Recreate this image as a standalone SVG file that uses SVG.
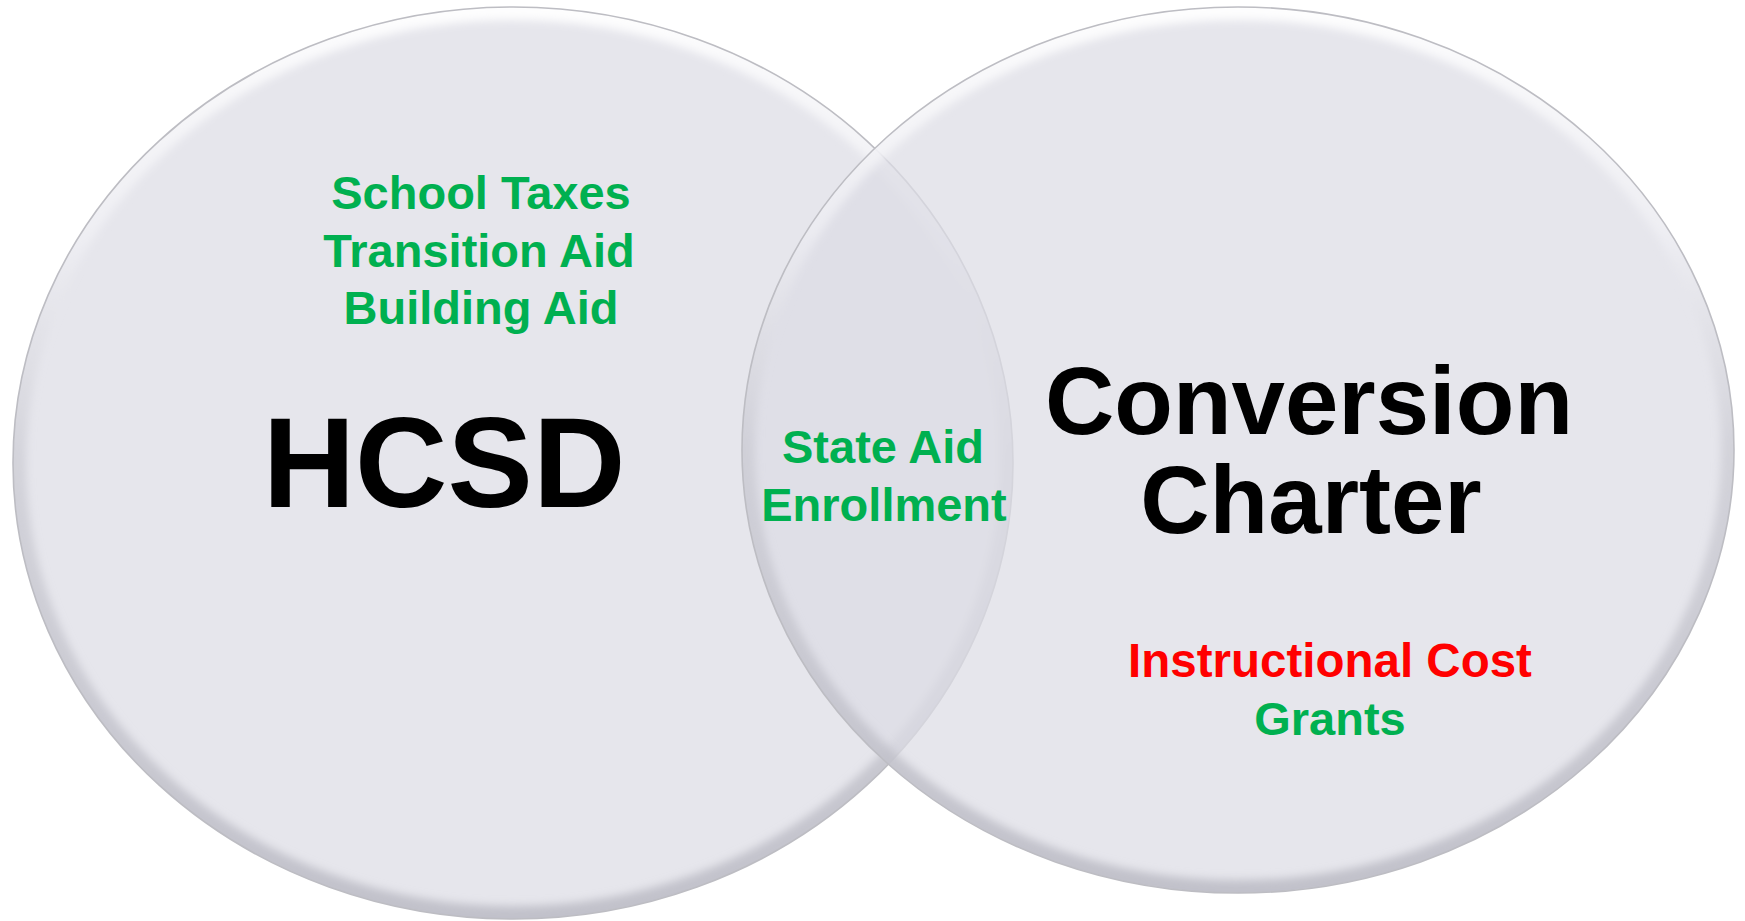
<svg xmlns="http://www.w3.org/2000/svg" width="1745" height="921" viewBox="0 0 1745 921">
  <style>
    .fill { fill: #DCDCE5; fill-opacity: 0.72; }
    .rim { fill: none; stroke: url(#rimGrad); stroke-width: 26; filter: url(#soft); }
    .edge { fill: none; stroke: #BDBDC3; stroke-width: 1.6; }
    .lbl { font-family: "Liberation Sans", Arial, sans-serif; font-weight: bold; text-anchor: middle; }
    .green { fill: #00B050; font-size: 47px; }
    .red { fill: #FF0000; font-size: 47.5px; }
    .big { fill: #000000; }
  </style>
  <defs>
    <linearGradient id="rimGrad" x1="0" y1="0" x2="0" y2="1">
      <stop offset="0" stop-color="#FFFFFF" stop-opacity="0.95"/>
      <stop offset="0.25" stop-color="#F4F4F8" stop-opacity="0.6"/>
      <stop offset="0.5" stop-color="#C6C6CE" stop-opacity="0.6"/>
      <stop offset="1" stop-color="#B8B8C2" stop-opacity="0.8"/>
    </linearGradient>
    <filter id="soft" x="-5%" y="-5%" width="110%" height="110%">
      <feGaussianBlur stdDeviation="4"/>
    </filter>
    <clipPath id="clipL"><ellipse cx="513" cy="463" rx="500" ry="456"/></clipPath>
    <clipPath id="clipR"><ellipse cx="1238" cy="450" rx="496" ry="443"/></clipPath>
  </defs>

  <rect width="1745" height="921" fill="#FFFFFF"/>

  <g id="node-hcsd">
    <ellipse class="fill" cx="513" cy="463" rx="500" ry="456"/>
    <g clip-path="url(#clipL)">
      <ellipse class="rim" cx="513" cy="463" rx="500" ry="456"/>
    </g>
    <ellipse class="edge" cx="513" cy="463" rx="500" ry="456"/>
  </g>

  <g id="node-charter">
    <ellipse class="fill" cx="1238" cy="450" rx="496" ry="443"/>
    <g clip-path="url(#clipR)">
      <ellipse class="rim" cx="1238" cy="450" rx="496" ry="443"/>
    </g>
    <ellipse class="edge" cx="1238" cy="450" rx="496" ry="443"/>
  </g>

  <g id="connectors"/>

  <g id="labels-hcsd">
    <text class="lbl green" x="481" y="209">School Taxes</text>
    <text class="lbl green" x="479" y="267">Transition Aid</text>
    <text class="lbl green" x="481" y="324">Building Aid</text>
    <text class="lbl big" x="444" y="507" font-size="128">HCSD</text>
  </g>

  <g id="labels-overlap">
    <text class="lbl green" x="883" y="463">State Aid</text>
    <text class="lbl green" x="884" y="521">Enrollment</text>
  </g>

  <g id="labels-charter">
    <text class="lbl big" x="1309" y="434" font-size="96">Conversion</text>
    <text class="lbl big" x="1311" y="533" font-size="96">Charter</text>
    <text class="lbl red" x="1330" y="677">Instructional Cost</text>
    <text class="lbl green" x="1330" y="735">Grants</text>
  </g>
</svg>
